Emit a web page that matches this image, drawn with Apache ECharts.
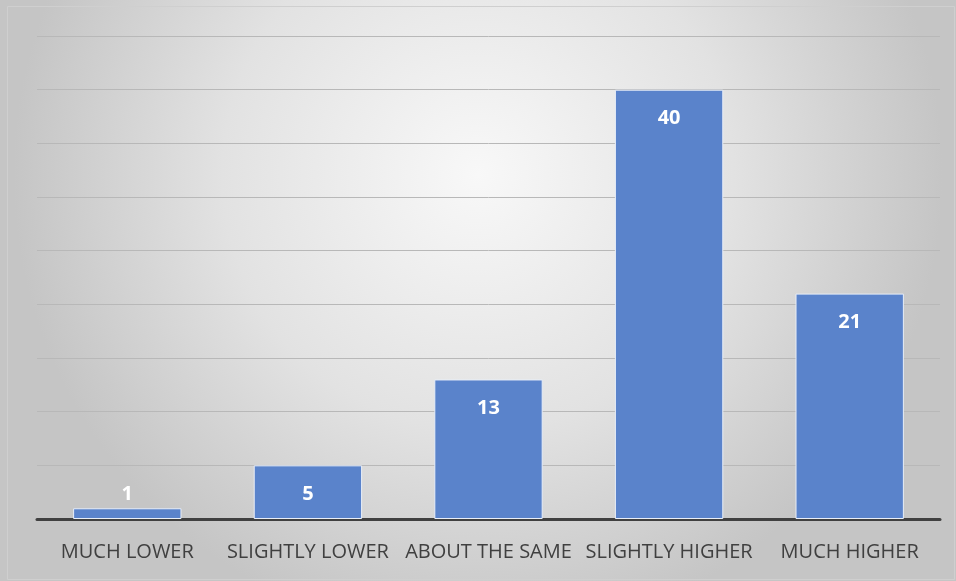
<!DOCTYPE html>
<html>
<head>
<meta charset="utf-8">
<style>
  html, body { margin: 0; padding: 0; }
  #chart { width: 956px; height: 581px; }
</style>
<script src="https://cdn.jsdelivr.net/npm/echarts@6/dist/echarts.min.js"></script>
</head>
<body>
<div id="chart"></div>
<script type="text/javascript">
// categories and counts
var categories = ['MUCH LOWER', 'SLIGHTLY LOWER', 'ABOUT THE SAME', 'SLIGHTLY HIGHER', 'MUCH HIGHER'];
var counts = [1, 5, 13, 40, 21];

var chart = echarts.init(document.getElementById('chart'));

// short bars get their label above the bar, like the original
var barData = counts.map(function (v) {
  if (v < 3) {
    return { value: v, label: { position: 'top', distance: 4 } };
  }
  return v;
});

var option = {
  backgroundColor: {
    type: 'radial', x: 0.5, y: 0.3, r: 0.8,
    colorStops: [
      { offset: 0, color: '#f8f8f8' },
      { offset: 0.55, color: '#e2e2e2' },
      { offset: 1, color: '#c5c5c5' }
    ]
  },
  animation: false,
  grid: { left: 37, right: 16, top: 36, bottom: 62 },
  xAxis: {
    type: 'category',
    data: categories,
    axisLine: { lineStyle: { color: '#404040', width: 3 } },
    axisTick: { show: false },
    axisLabel: {
      color: '#404040',
      fontFamily: 'Open Sans',
      fontSize: 20,
      margin: 23,
      interval: 0
    }
  },
  yAxis: {
    type: 'value',
    min: 0,
    max: 45,
    interval: 5,
    axisLabel: { show: false },
    axisLine: { show: false },
    axisTick: { show: false },
    splitLine: { lineStyle: { color: '#b8b8b8', width: 1 } }
  },
  series: [{
    type: 'bar',
    data: barData,
    barCategoryGap: '40%',
    itemStyle: {
      color: '#5a83cb',
      borderColor: '#e8eef8',
      borderWidth: 1
    },
    label: {
      show: true,
      position: 'insideTop',
      distance: 19,
      color: '#ffffff',
      fontWeight: 'bold',
      fontFamily: 'Open Sans',
      fontSize: 20
    }
  }],
  graphic: [{
    type: 'rect',
    shape: { x: 7.5, y: 6.5, width: 947, height: 573 },
    style: { fill: 'none', stroke: '#cfcfcf', lineWidth: 1 },
    silent: true
  }]
};

chart.setOption(option);
</script>
</body>
</html>
